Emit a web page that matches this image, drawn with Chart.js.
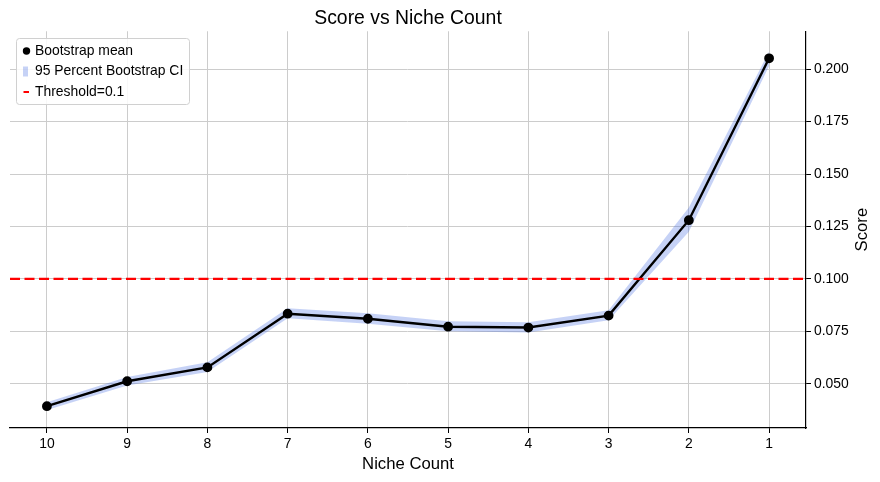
<!DOCTYPE html>
<html>
<head>
<meta charset="utf-8">
<script src="https://cdn.jsdelivr.net/npm/chart.js@4.4.0/dist/chart.umd.min.js"></script>
<style>
  html, body { margin: 0; padding: 0; background: #fff; }
  #wrap { width: 880px; height: 482px; }
</style>
</head>
<body>
<div id="wrap"><canvas id="chart" width="880" height="482"></canvas></div>
<script>
// ----------------------
// Data
// ----------------------
const nicheLabels = ['10', '9', '8', '7', '6', '5', '4', '3', '2', '1'];
const meanScore = [0.0393, 0.0512, 0.0578, 0.0834, 0.0810, 0.0772, 0.0768, 0.0825, 0.1280, 0.2052];
const ciLow = [0.0375, 0.0492, 0.0556, 0.0812, 0.0786, 0.0750, 0.0745, 0.0803, 0.1225, 0.2015];
const ciHigh = [0.0412, 0.0532, 0.0603, 0.0860, 0.0836, 0.0798, 0.0793, 0.0850, 0.1340, 0.2085];
const thresholdValue = 0.1;
const yTicks = [0.050, 0.075, 0.100, 0.125, 0.150, 0.175, 0.200];

const FONT = "'Liberation Sans', Arial, sans-serif";
const toPoints = arr => arr.map((v, i) => ({ x: i, y: v }));

// ----------------------
// Legend drawn inside the plot, matplotlib style
// plus the right-hand axis title, read bottom to top
// ----------------------
const boxLegend = {
    id: 'boxLegend',
    afterDraw(chart) {
        const c = chart.ctx;
        const x0 = 16, y0 = 38, w = 173, h = 66;
        c.save();
        c.fillStyle = 'rgba(255,255,255,0.85)';
        c.strokeStyle = '#d0d0d0';
        c.lineWidth = 1;
        c.beginPath();
        c.roundRect(x0 + 0.5, y0 + 0.5, w, h, 3);
        c.fill();
        c.stroke();

        c.font = '13.9px ' + FONT;
        c.fillStyle = '#000';
        c.textBaseline = 'middle';
        const rows = [51, 71.5, 92];

        // mean marker
        c.beginPath();
        c.arc(26.5, rows[0], 3.7, 0, Math.PI * 2);
        c.fill();
        // CI patch
        c.fillStyle = 'rgba(65,105,225,0.3)';
        c.fillRect(23, rows[1] - 5, 5, 10);
        // threshold dash
        c.strokeStyle = '#ff0000';
        c.lineWidth = 2;
        c.beginPath();
        c.moveTo(23.5, rows[2]);
        c.lineTo(29, rows[2]);
        c.stroke();

        c.fillStyle = '#000';
        const names = chart.data.datasets.filter(d => d.legendText).map(d => d.legendText);
        names.forEach((t, i) => c.fillText(t, 35, rows[i]));

        // y axis title
        const area = chart.chartArea;
        c.translate(862, (area.top + area.bottom) / 2);
        c.rotate(-Math.PI / 2);
        c.font = '16.7px ' + FONT;
        c.textAlign = 'center';
        c.fillText('Score', 0, 0);
        c.restore();
    }
};

// ----------------------
// Chart
// ----------------------
new Chart(document.getElementById('chart').getContext('2d'), {
    type: 'line',
    data: {
        datasets: [
            {
                legendText: 'Bootstrap mean',
                data: toPoints(meanScore),
                borderColor: '#000',
                backgroundColor: '#000',
                borderWidth: 2.4,
                pointRadius: 3.7,
                pointHoverRadius: 3.7,
                tension: 0,
                order: 1
            },
            {
                data: toPoints(ciLow),
                borderWidth: 0,
                pointRadius: 0,
                fill: false,
                order: 2
            },
            {
                legendText: '95 Percent Bootstrap CI',
                data: toPoints(ciHigh),
                borderWidth: 0,
                pointRadius: 0,
                backgroundColor: 'rgba(65,105,225,0.3)',
                fill: '-1',
                order: 2
            },
            {
                legendText: 'Threshold=0.1',
                data: [{ x: -0.46, y: thresholdValue }, { x: 9.46, y: thresholdValue }],
                borderColor: '#ff0000',
                borderWidth: 2.2,
                borderDash: [10, 4.5],
                pointRadius: 0,
                order: 0
            }
        ]
    },
    options: {
        responsive: false,
        animation: false,
        layout: { padding: { left: 10, right: 0, top: 0, bottom: 0 } },
        plugins: {
            legend: { display: false },
            tooltip: { enabled: false },
            title: {
                display: true,
                fullSize: false,
                text: 'Score vs Niche Count',
                color: '#000',
                font: { family: FONT, size: 19.4, weight: 'normal' },
                padding: { top: 7, bottom: 1 }
            }
        },
        scales: {
            x: {
                type: 'linear',
                min: -0.46,
                max: 9.46,
                afterBuildTicks: axis => { axis.ticks = nicheLabels.map((_, i) => ({ value: i })); },
                afterFit: axis => { axis.height = 54; },
                ticks: {
                    callback: v => nicheLabels[v],
                    color: '#000',
                    font: { family: FONT, size: 13.9 },
                    padding: 3,
                    maxRotation: 0
                },
                grid: { color: '#cccccc', tickColor: '#000', tickLength: 5, lineWidth: 1 },
                border: { color: '#000', width: 1.2 },
                title: {
                    display: true,
                    text: 'Niche Count',
                    color: '#000',
                    font: { family: FONT, size: 16.7 },
                    padding: { top: 0, bottom: 8 }
                }
            },
            y: {
                position: 'right',
                min: 0.0289,
                max: 0.2181,
                afterBuildTicks: axis => { axis.ticks = yTicks.map(v => ({ value: v })); },
                afterFit: axis => { axis.width = 74; },
                ticks: {
                    callback: v => v.toFixed(3),
                    color: '#000',
                    font: { family: FONT, size: 13.9 },
                    padding: 3
                },
                grid: { color: '#cccccc', tickColor: '#000', tickLength: 5, lineWidth: 1 },
                border: { color: '#000', width: 1.2 },
                title: { display: false }
            }
        }
    },
    plugins: [boxLegend]
});
</script>
</body>
</html>
